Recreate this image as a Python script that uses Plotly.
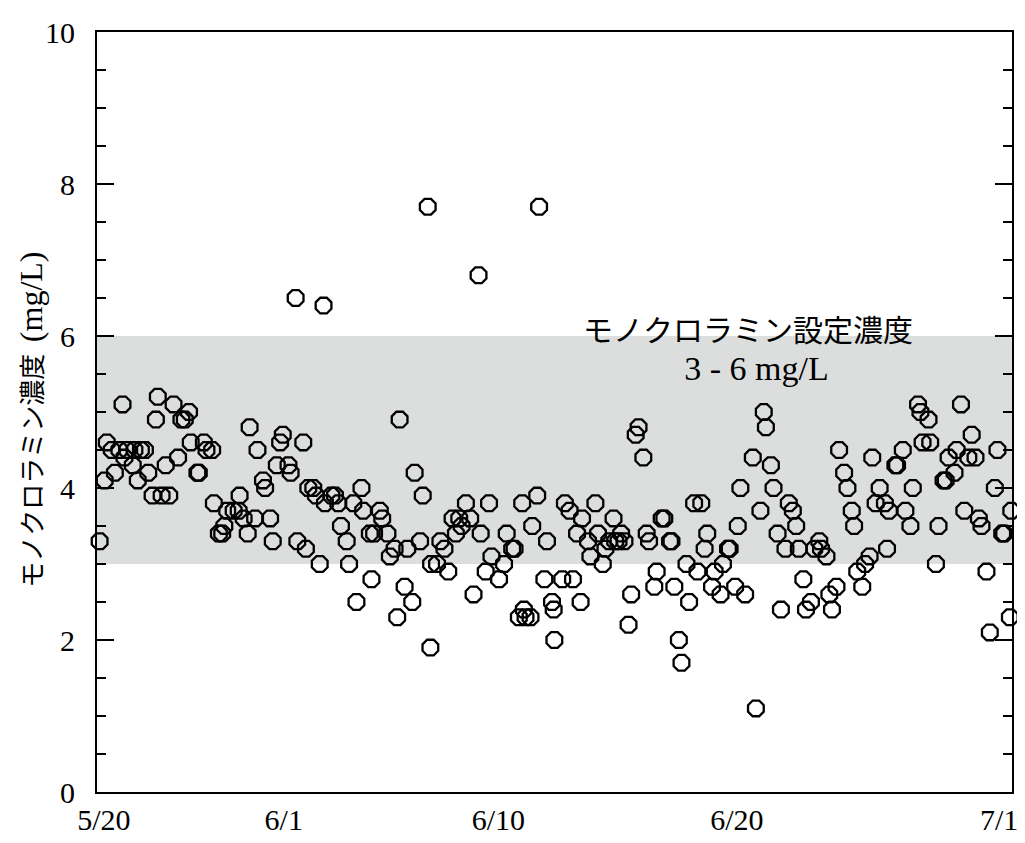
import plotly.graph_objects as go

# Time axis: days counted from 5/20 (as drawn on the reference axis scale)
days = [
    4.28, 4.49, 4.58, 4.79, 4.92, 5.11, 5.24, 5.32, 5.43, 5.67,
    5.74, 5.88, 6.01, 6.18, 6.32, 6.50, 6.64, 6.72, 6.88, 7.05,
    7.20, 7.38, 7.57, 7.71, 7.85, 8.03, 8.10, 8.38, 8.44, 8.65,
    8.76, 9.00, 9.07, 9.28, 9.42, 9.51, 9.63, 9.90, 10.11, 10.15,
    10.32, 10.49, 10.57, 10.80, 10.90, 11.13, 11.22, 11.43, 11.54, 11.71,
    11.85, 11.96, 12.20, 12.29, 12.50, 12.57, 12.82, 12.93, 13.03, 13.24,
    13.35, 13.51, 13.67, 13.73, 14.00, 14.15, 14.29, 14.40, 14.64, 14.74,
    14.92, 15.05, 15.26, 15.33, 15.61, 15.68, 15.79, 16.03, 16.13, 16.35,
    16.45, 16.65, 16.76, 16.86, 17.07, 17.18, 17.39, 17.49, 17.72, 17.83,
    18.04, 18.15, 18.18, 18.43, 18.57, 18.74, 18.90, 19.08, 19.22, 19.36,
    19.46, 19.64, 19.82, 19.96, 20.17, 20.26, 20.47, 20.61, 20.71, 21.03,
    21.24, 21.35, 21.58, 21.68, 21.86, 22.00, 22.07, 22.14, 22.35, 22.42,
    22.63, 22.71, 22.93, 23.04, 23.25, 23.32, 23.35, 23.68, 23.79, 23.99,
    24.13, 24.30, 24.45, 24.51, 24.76, 24.86, 25.07, 25.18, 25.38, 25.49,
    25.65, 25.83, 25.90, 26.04, 26.15, 26.29, 26.46, 26.57, 26.76, 26.88,
    27.08, 27.22, 27.32, 27.54, 27.64, 27.85, 27.96, 28.20, 28.26, 28.38,
    28.57, 28.68, 28.89, 29.00, 29.21, 29.35, 29.51, 29.65, 29.76, 29.96,
    30.07, 30.32, 30.42, 30.63, 30.70, 30.93, 31.04, 31.15, 31.35, 31.67,
    31.80, 31.99, 32.13, 32.22, 32.43, 32.54, 32.71, 32.85, 33.04, 33.18,
    33.35, 33.49, 33.60, 33.79, 33.90, 34.11, 34.25, 34.46, 34.53, 34.76,
    34.88, 34.99, 35.18, 35.29, 35.50, 35.64, 35.82, 35.92, 36.05, 36.26,
    36.38, 36.57, 36.68, 36.82, 36.99, 37.21, 37.30, 37.38, 37.65, 37.72,
    37.96, 38.07, 38.28, 38.38, 38.60, 38.70, 38.79, 39.04, 39.11, 39.35,
    39.46, 39.67, 39.76, 39.88, 40.13, 40.22, 40.40, 40.54, 40.71, 40.85,
    41.01, 41.15, 41.26, 41.47, 41.61, 41.82, 41.93, 42.13, 42.21, 42.45,
    42.51,
]

monochloramine = [
    3.3, 4.1, 4.6, 4.5, 4.2, 4.5, 5.1, 4.4, 4.5, 4.3,
    4.5, 4.1, 4.5, 4.5, 4.2, 3.9, 4.9, 5.2, 3.9, 4.3,
    3.9, 5.1, 4.4, 4.9, 4.9, 5.0, 4.6, 4.2, 4.2, 4.6,
    4.5, 4.5, 3.8, 3.4, 3.4, 3.5, 3.7, 3.7, 3.7, 3.9,
    3.6, 3.4, 4.8, 3.6, 4.5, 4.1, 4.0, 3.6, 3.3, 4.3,
    4.6, 4.7, 4.3, 4.2, 6.5, 3.3, 4.6, 3.2, 4.0, 4.0,
    3.9, 3.0, 6.4, 3.8, 3.9, 3.9, 3.8, 3.5, 3.3, 3.0,
    3.8, 2.5, 4.0, 3.7, 3.4, 2.8, 3.4, 3.7, 3.6, 3.4,
    3.1, 3.2, 2.3, 4.9, 2.7, 3.2, 2.5, 4.2, 3.3, 3.9,
    7.7, 1.9, 3.0, 3.0, 3.3, 3.2, 2.9, 3.6, 3.4, 3.6,
    3.5, 3.8, 3.6, 2.6, 6.8, 3.4, 2.9, 3.8, 3.1, 2.8,
    3.0, 3.4, 3.2, 3.2, 2.3, 3.8, 2.4, 2.3, 2.3, 3.5,
    3.9, 7.7, 2.8, 3.3, 2.5, 2.4, 2.0, 2.8, 3.8, 3.7,
    2.8, 3.4, 2.5, 3.6, 3.3, 3.1, 3.8, 3.4, 3.0, 3.2,
    3.3, 3.6, 3.3, 3.3, 3.4, 3.3, 2.2, 2.6, 4.7, 4.8,
    4.4, 3.4, 3.3, 2.7, 2.9, 3.6, 3.6, 3.3, 3.3, 2.7,
    2.0, 1.7, 3.0, 2.5, 3.8, 2.9, 3.8, 3.2, 3.4, 2.7,
    2.9, 2.6, 3.0, 3.2, 3.2, 2.7, 3.5, 4.0, 2.6, 4.4,
    1.1, 3.7, 5.0, 4.8, 4.3, 4.0, 3.4, 2.4, 3.2, 3.8,
    3.7, 3.5, 3.2, 2.8, 2.4, 2.5, 3.2, 3.3, 3.2, 3.1,
    2.6, 2.4, 2.7, 4.5, 4.2, 4.0, 3.7, 3.5, 2.9, 2.7,
    3.0, 3.1, 4.4, 3.8, 4.0, 3.8, 3.2, 3.7, 4.3, 4.3,
    4.5, 3.7, 3.5, 4.0, 5.1, 5.0, 4.6, 4.9, 4.6, 3.0,
    3.5, 4.1, 4.1, 4.4, 4.2, 4.5, 5.1, 3.7, 4.4, 4.7,
    4.4, 3.6, 3.5, 2.9, 2.1, 4.0, 4.5, 3.4, 3.4, 2.3,
    3.7,
]

tick_days = [4.46, 12, 21, 31, 42]
tick_labels = ["5/20", "6/1", "6/10", "6/20", "7/1"]

band_low, band_high = 3, 6
band_title = "モノクロラミン設定濃度"
band_range = "3 - 6 mg/L"

SERIF = "Liberation Serif, Times New Roman, serif"
CJK = "Noto Sans CJK JP, Noto Sans, sans-serif"

fig = go.Figure()

fig.add_trace(go.Scatter(
    x=days, y=monochloramine, mode="markers",
    marker=dict(symbol="octagon-open", size=17, color="black",
                line=dict(width=2.3, color="black")),
    cliponaxis=False, showlegend=False, hoverinfo="x+y",
))

fig.add_shape(type="rect", xref="paper", yref="y", x0=0, x1=1,
              y0=band_low, y1=band_high, fillcolor="#dcdddd",
              line=dict(width=0), layer="below")

# Band label: two lines in one text block (sans-serif Japanese, serif range)
fig.add_annotation(
    x=31.45, y=5.86, xref="x", yref="y", showarrow=False,
    xanchor="center", yanchor="middle", align="center",
    text=(f"<span style='font-family:Noto Sans CJK JP'>{band_title}</span><br>"
          f"<span style='font-family:Liberation Serif;font-size:34px'>&nbsp;&nbsp;{band_range}</span>"),
    font=dict(family=CJK, size=30, color="black"),
)

fig.add_annotation(
    x=-0.073, y=0.49, xref="paper", yref="paper", textangle=-90, showarrow=False,
    xanchor="center", yanchor="middle",
    text=("<span style='font-family:Noto Sans CJK JP'>モノクロラミン濃度</span>"
          "&nbsp;&nbsp;<span style='font-family:Liberation Serif;font-size:32px'>(mg/L)</span>"),
    font=dict(family=CJK, size=26, color="black"),
)

fig.update_layout(
    width=1017, height=835,
    margin=dict(l=89, r=7, t=10, b=43),
    paper_bgcolor="white", plot_bgcolor="white",
    font=dict(family=SERIF, size=30, color="black"),
)

fig.update_xaxes(
    range=[4.17, 42.54], tickmode="array", tickvals=tick_days, ticktext=tick_labels,
    showgrid=False, zeroline=False, showline=True, linecolor="black", linewidth=2,
    mirror=True, ticks="", tickfont=dict(family=SERIF, size=30),
    ticklabeloverflow="allow",
)
fig.update_yaxes(
    range=[0, 10], tickmode="array", tickvals=[0, 2, 4, 6, 8, 10],
    showgrid=False, zeroline=False, showline=True, linecolor="black", linewidth=2,
    mirror="ticks", ticks="inside", ticklen=17, tickwidth=2, tickcolor="black",
    minor=dict(tickvals=[0.5, 1, 1.5, 2.5, 3, 3.5, 4.5, 5, 5.5, 6.5, 7, 7.5, 8.5, 9, 9.5],
               ticks="inside", ticklen=9, tickwidth=2, tickcolor="black"),
    ticklabelstandoff=14, tickfont=dict(family=SERIF, size=30),
    ticklabeloverflow="allow",
)

fig.write_html("out.html")
